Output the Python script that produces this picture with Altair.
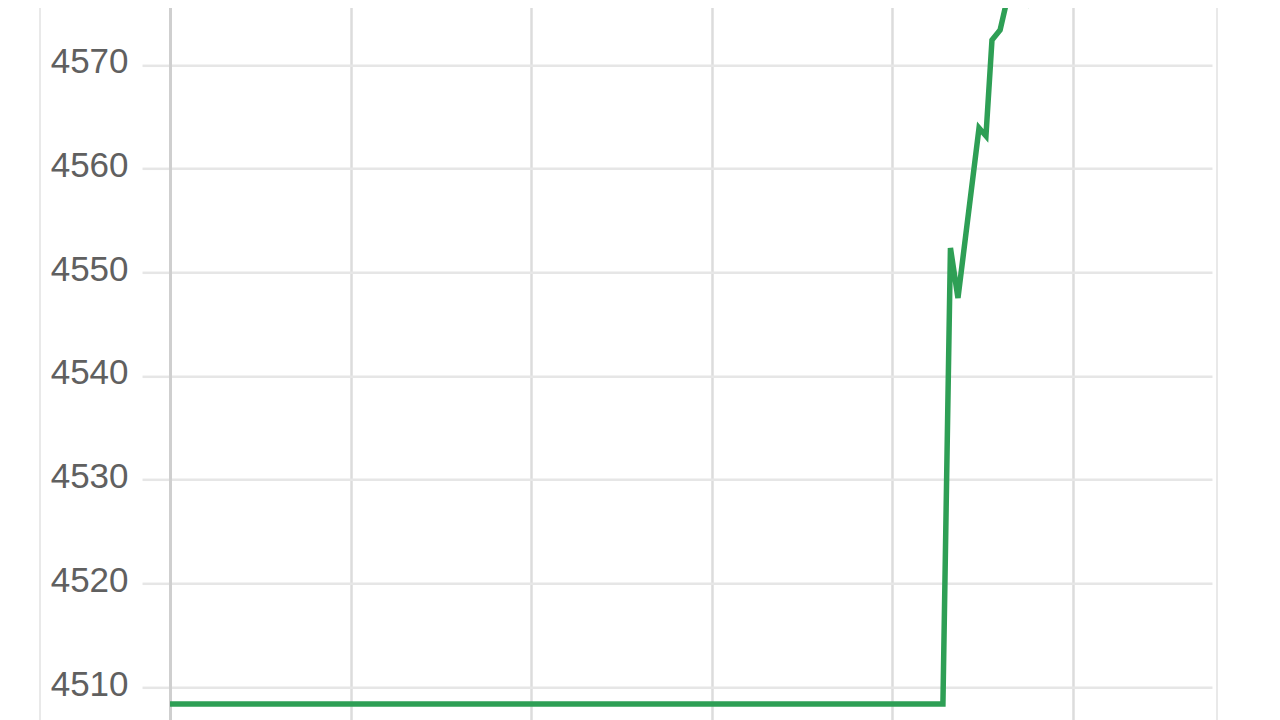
import altair as alt
import pandas as pd

# x position in minutes from session start, y = price level
minutes = [0, 128.4, 129.65, 130.9, 134.4, 135.55, 136.55, 137.9, 139.05, 140.4, 142.5, 143.85]
prices = [4508.36, 4508.36, 4552.35, 4547.52, 4563.92, 4563.15, 4572.41, 4573.37, 4576.27, 4578.7, 4576.2, 4579.2]

y_ticks = [4510, 4520, 4530, 4540, 4550, 4560, 4570]
x_ticks = [0, 30, 60, 90, 120, 150]

df = pd.DataFrame({"t": minutes, "price": prices})

W = 1042
H = 829.4

line = alt.Chart(df).mark_line(color="#2e9f55", strokeWidth=5.5, clip=True, strokeJoin="miter").encode(
    x=alt.X("t:Q", scale=alt.Scale(domain=[0, 173.1], nice=False, zero=False),
            axis=alt.Axis(values=x_ticks, labels=False, ticks=False, domain=False, grid=True,
                          gridColor="#dcdcdc", gridWidth=2.5, title=None)),
    y=alt.Y("price:Q", scale=alt.Scale(domain=[4500, 4580], nice=False, zero=False),
            axis=alt.Axis(values=y_ticks, format="d", title=None, grid=True,
                          gridColor="#e6e6e6", gridWidth=2.5,
                          tickSize=28, tickColor="#e6e6e6", tickWidth=2.5,
                          domain=True, domainColor="#cfcfcf", domainWidth=3,
                          labelPadding=14, labelFontSize=35, labelColor="#606060",
                          labelFont="Liberation Sans", labelBaseline="middle",
                          labelOffset=-3)),
)

frame = alt.Chart(pd.DataFrame({"edge": ["left", "right"], "px": [-130, 1047]})).mark_rule(
    color="#e9e9e9", strokeWidth=2
).encode(
    x=alt.X("px:Q", scale=None),
    y=alt.value(0),
    y2=alt.value(H),
)

chart = alt.layer(frame, line).properties(
    width=W,
    height=H,
    padding={"left": 162, "top": -46.7, "right": 40, "bottom": 20},
    autosize=alt.AutoSizeParams(type="none"),
    background="white",
).configure_view(stroke=None)

chart.save("out.html", embed_options={"renderer": "svg", "actions": False})
